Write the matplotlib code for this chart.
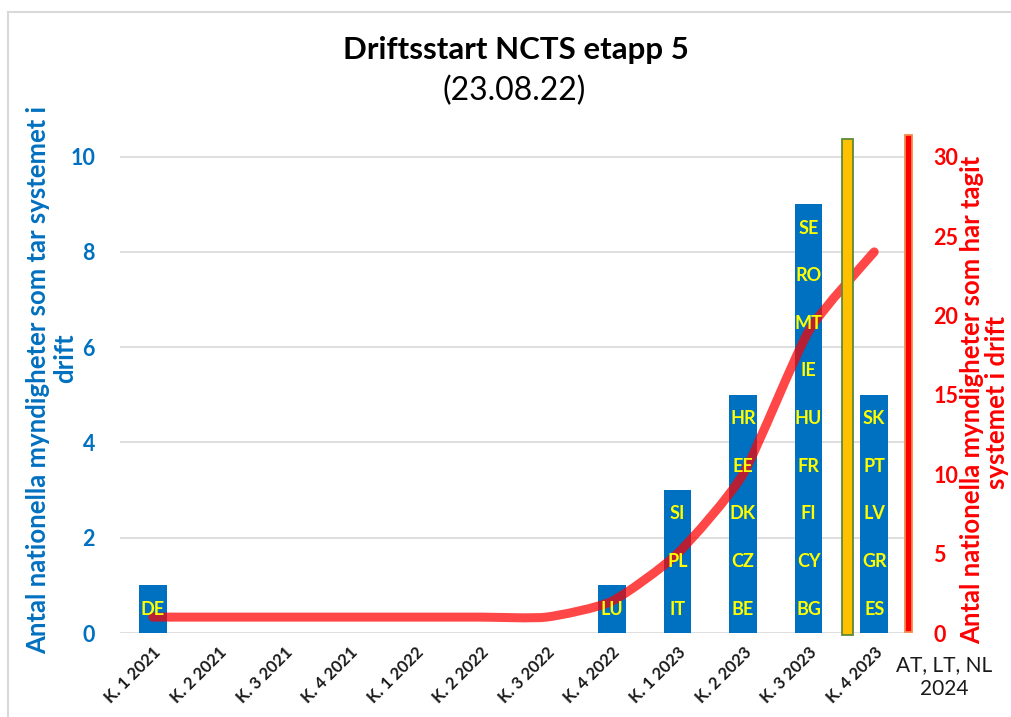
import matplotlib
matplotlib.use("Agg")
import matplotlib.pyplot as plt
import numpy as np
from matplotlib.path import Path
from matplotlib.patches import PathPatch, Rectangle
from matplotlib.lines import Line2D

plt.rcParams['font.family'] = ['Lato', 'DejaVu Sans']

quarters = ["K. 1 2021", "K. 2 2021", "K. 3 2021", "K. 4 2021",
            "K. 1 2022", "K. 2 2022", "K. 3 2022", "K. 4 2022",
            "K. 1 2023", "K. 2 2023", "K. 3 2023", "K. 4 2023"]
new_counts = [1, 0, 0, 0, 0, 0, 0, 1, 3, 5, 9, 5]
cumulative = [1, 1, 1, 1, 1, 1, 1, 2, 5, 10, 19, 24]
countries = [["DE"], [], [], [], [], [], [], ["LU"],
             ["IT", "PL", "SI"],
             ["BE", "CZ", "DK", "EE", "HR"],
             ["BG", "CY", "FI", "FR", "HU", "IE", "MT", "RO", "SE"],
             ["ES", "GR", "LV", "PT", "SK"]]
left_ticks = [0, 2, 4, 6, 8, 10]
right_ticks = [0, 5, 10, 15, 20, 25, 30]
# decorative marker bars (position on category axis, height on left axis)
marker_pos = [10.59, 11.52]
marker_height = [10.36, 10.46]
extra_label = "AT, LT, NL\n2024"

title = "Driftsstart NCTS etapp 5"
subtitle = "(23.08.22)"
left_label_lines = ["Antal nationella myndigheter som tar systemet i", "drift"]
right_label_lines = ["Antal nationella myndigheter som har tagit", "systemet i drift"]

BLUE = "#0070C0"
RED = "#FF0000"
YELLOW = "#FFFF00"

W, H = 1012, 717
fig = plt.figure(figsize=(W / 100, H / 100), dpi=100)
fig.patch.set_facecolor("white")

# chart border
fig.add_artist(Line2D([8 / W, 8 / W], [0, 1 - 12 / H], transform=fig.transFigure,
                      color="#D9D9D9", lw=1.5))
fig.add_artist(Line2D([8 / W, 1], [1 - 12 / H, 1 - 12 / H], transform=fig.transFigure,
                      color="#D9D9D9", lw=1.5))

left, right, bottom, top = 120, 907, 633, 109
ax = fig.add_axes([left / W, 1 - bottom / H, (right - left) / W, (bottom - top) / H])
ax2 = ax.twinx()

x = np.arange(len(quarters))
ax.bar(x, new_counts, width=0.42, color=BLUE, zorder=2)
ax.set_xlim(-0.5, len(quarters) - 0.5)
ax.set_ylim(0, 11)
ax2.set_ylim(0, 33)
ax.set_yticks(left_ticks, labels=[str(v) for v in left_ticks],
              fontweight="bold", color=BLUE, fontsize=15.5)
ax2.set_yticks(right_ticks, labels=[str(v) for v in right_ticks],
               fontweight="bold", color=RED, fontsize=15.5)

ax.grid(axis="y", color="#D9D9D9", lw=1.2, zorder=0)
ax.set_axisbelow(True)
for s in ["left", "right", "top", "bottom"]:
    ax.spines[s].set_visible(False)
    ax2.spines[s].set_visible(False)

ax.tick_params(axis="y", length=0, pad=18)
ax2.tick_params(axis="y", length=0, pad=19)

ax.set_xticks(x)
ax.set_xticklabels(quarters, rotation=45, ha="right", rotation_mode="anchor",
                   fontsize=12, fontweight="bold", color="#1a1a1a")
ax.tick_params(axis="x", length=0, pad=8)

# smoothed cumulative line (bezier through the data points)
tension = 1 / 10
pts = np.column_stack([x, cumulative]).astype(float)
verts = [tuple(pts[0])]
codes = [Path.MOVETO]
n = len(pts)
for i in range(n - 1):
    p0 = pts[i - 1] if i > 0 else pts[i]
    p1 = pts[i]
    p2 = pts[i + 1]
    p3 = pts[i + 2] if i + 2 < n else pts[i + 1]
    c1 = p1 + (p2 - p0) * tension
    c2 = p2 - (p3 - p1) * tension
    verts += [tuple(c1), tuple(c2), tuple(p2)]
    codes += [Path.CURVE4] * 3
line = PathPatch(Path(verts, codes), facecolor="none", edgecolor=RED,
                 lw=6.5, alpha=0.72, capstyle="round", joinstyle="round", zorder=3)
ax2.add_patch(line)

# country labels in bars
for i, names in enumerate(countries):
    for j, nm in enumerate(names):
        ax2.text(i, j + 0.5, nm, transform=ax.transData, ha="center", va="center",
                 color=YELLOW, fontsize=13, fontweight="bold", zorder=5)

# marker bars
ax2.add_patch(Rectangle((marker_pos[0] - 0.088, -0.05), 0.176, marker_height[0] + 0.05,
                        transform=ax.transData, facecolor="#FFC000",
                        edgecolor="#5E8A3A", lw=1.3, zorder=4, clip_on=False))
ax2.add_patch(Rectangle((marker_pos[1] - 0.055, 0.02), 0.11, marker_height[1] - 0.02,
                        transform=ax.transData, facecolor=RED,
                        edgecolor="#F4894A", lw=1.3, zorder=4, clip_on=False))

# extra category label
fig.text(944 / W, 1 - 677 / H, extra_label, ha="center", va="center",
         fontsize=15, color="#1a1a1a", linespacing=1.25)

# titles
fig.text(516 / W, 1 - 50 / H, title, ha="center", va="center",
         fontsize=22.5, fontweight="bold", color="black")
fig.text(514 / W, 1 - 91 / H, subtitle, ha="center", va="center",
         fontsize=23, color="black")

# axis labels (each line placed separately)
fig.text(38 / W, 1 - 380 / H, left_label_lines[0], rotation=90, ha="center", va="center",
         fontsize=18.5, fontweight="bold", color=BLUE)
fig.text(65 / W, 1 - 358 / H, left_label_lines[1], rotation=90, ha="center", va="center",
         fontsize=18.5, fontweight="bold", color=BLUE)
fig.text(972 / W, 1 - 400 / H, right_label_lines[0], rotation=90, ha="center", va="center",
         fontsize=18.5, fontweight="bold", color=RED)
fig.text(997 / W, 1 - 402 / H, right_label_lines[1], rotation=90, ha="center", va="center",
         fontsize=18.5, fontweight="bold", color=RED)

fig.savefig("out.png", dpi=100)
